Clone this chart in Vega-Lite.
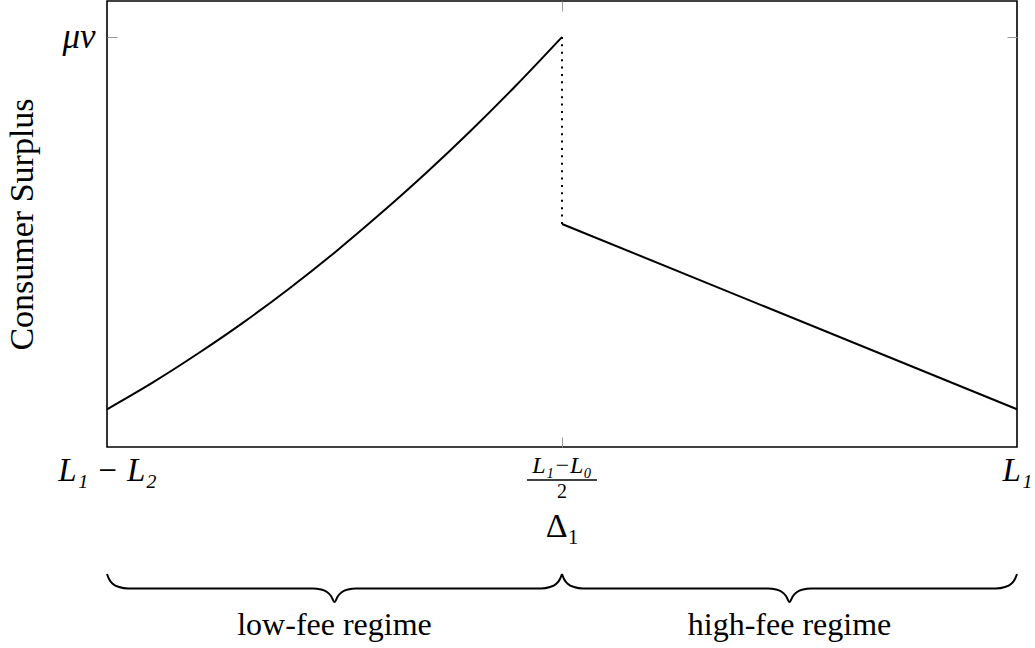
{
  "$schema": "https://vega.github.io/schema/vega-lite/v6.json",
  "width": 910,
  "height": 446,
  "autosize": {"type": "none"},
  "padding": {"left": 107, "top": 1, "right": 18, "bottom": 201},
  "background": "white",
  "config": {
    "view": {"stroke": "#000", "strokeWidth": 1.6},
    "axis": {"domain": false, "grid": false}
  },
  "datasets": {
    "curve": [
      {"part": "low", "d": 0.0, "cs": 0.092},
      {"part": "low", "d": 0.1, "cs": 0.157},
      {"part": "low", "d": 0.2, "cs": 0.228},
      {"part": "low", "d": 0.3, "cs": 0.304},
      {"part": "low", "d": 0.4, "cs": 0.386},
      {"part": "low", "d": 0.5, "cs": 0.474},
      {"part": "low", "d": 0.6, "cs": 0.568},
      {"part": "low", "d": 0.7, "cs": 0.667},
      {"part": "low", "d": 0.8, "cs": 0.772},
      {"part": "low", "d": 0.9, "cs": 0.883},
      {"part": "low", "d": 1.0, "cs": 1.0},
      {"part": "high", "d": 1.0, "cs": 0.544},
      {"part": "high", "d": 2.0, "cs": 0.092}
    ],
    "jump": [{"d": 1.0, "lo": 0.544, "hi": 1.0}],
    "braces": [
      {"brace": "low", "d": 0.0, "y": -0.3098},
      {"brace": "low", "d": 0.0044, "y": -0.322},
      {"brace": "low", "d": 0.0132, "y": -0.3341},
      {"brace": "low", "d": 0.0264, "y": -0.3415},
      {"brace": "low", "d": 0.0462, "y": -0.3451},
      {"brace": "low", "d": 0.4527, "y": -0.3451},
      {"brace": "low", "d": 0.4703, "y": -0.3476},
      {"brace": "low", "d": 0.4835, "y": -0.3537},
      {"brace": "low", "d": 0.4923, "y": -0.3634},
      {"brace": "low", "d": 0.5, "y": -0.378},
      {"brace": "low", "d": 0.5077, "y": -0.3634},
      {"brace": "low", "d": 0.5165, "y": -0.3537},
      {"brace": "low", "d": 0.5297, "y": -0.3476},
      {"brace": "low", "d": 0.5473, "y": -0.3451},
      {"brace": "low", "d": 0.9538, "y": -0.3451},
      {"brace": "low", "d": 0.9736, "y": -0.3415},
      {"brace": "low", "d": 0.9868, "y": -0.3341},
      {"brace": "low", "d": 0.9956, "y": -0.322},
      {"brace": "low", "d": 1.0, "y": -0.3098},
      {"brace": "high", "d": 1.0, "y": -0.3098},
      {"brace": "high", "d": 1.0044, "y": -0.322},
      {"brace": "high", "d": 1.0132, "y": -0.3341},
      {"brace": "high", "d": 1.0264, "y": -0.3415},
      {"brace": "high", "d": 1.0462, "y": -0.3451},
      {"brace": "high", "d": 1.4527, "y": -0.3451},
      {"brace": "high", "d": 1.4703, "y": -0.3476},
      {"brace": "high", "d": 1.4835, "y": -0.3537},
      {"brace": "high", "d": 1.4923, "y": -0.3634},
      {"brace": "high", "d": 1.5, "y": -0.378},
      {"brace": "high", "d": 1.5077, "y": -0.3634},
      {"brace": "high", "d": 1.5165, "y": -0.3537},
      {"brace": "high", "d": 1.5297, "y": -0.3476},
      {"brace": "high", "d": 1.5473, "y": -0.3451},
      {"brace": "high", "d": 1.9538, "y": -0.3451},
      {"brace": "high", "d": 1.9736, "y": -0.3415},
      {"brace": "high", "d": 1.9868, "y": -0.3341},
      {"brace": "high", "d": 1.9956, "y": -0.322},
      {"brace": "high", "d": 2.0, "y": -0.3098}
    ],
    "regimes": [
      {"d": 0.5, "y": -0.4585, "t": "low-fee regime"},
      {"d": 1.5, "y": -0.4585, "t": "high-fee regime"}
    ],
    "numerator": [{"d": 1.0, "y": -0.0634, "t": "L₁−L₀"}],
    "denominator": [{"d": 1.0, "y": -0.124, "t": "2"}],
    "fracbar": [{"d1": 0.923, "d2": 1.077, "y": -0.0805}]
  },
  "layer": [
    {
      "data": {"name": "curve"},
      "mark": {"type": "line", "color": "#000", "strokeWidth": 2, "interpolate": "monotone"},
      "encoding": {
        "x": {
          "field": "d", "type": "quantitative",
          "scale": {"domain": [0, 2], "nice": false, "zero": false},
          "axis": {
            "orient": "bottom",
            "values": [0, 1, 2],
            "labelExpr": "datum.value == 0 ? 'L₁ − L₂' : datum.value == 2 ? 'L₁' : ''",
            "tickSize": -10, "tickColor": "#999", "tickWidth": 1,
            "tickOpacity": {"condition": {"test": "datum.value == 1", "value": 1}, "value": 0},
            "labelFont": "Liberation Serif", "labelFontStyle": "italic", "labelFontSize": 33,
            "labelColor": "#000", "labelPadding": 17, "labelFlush": false, "labelOverlap": false,
            "labelBaseline": "top",
            "title": "Δ₁", "titleFont": "Liberation Serif", "titleFontSize": 34,
            "titleFontWeight": "normal", "titleColor": "#000", "titlePadding": 22
          }
        },
        "y": {
          "field": "cs", "type": "quantitative",
          "scale": {"domain": [0, 1.0878], "nice": false, "zero": false},
          "axis": {
            "orient": "left",
            "values": [1],
            "labelExpr": "'μv'",
            "tickSize": -10, "tickColor": "#999", "tickWidth": 1,
            "labelFont": "Liberation Serif", "labelFontStyle": "italic", "labelFontSize": 35,
            "labelColor": "#000", "labelPadding": 22,
            "title": "Consumer Surplus", "titleFont": "Liberation Serif", "titleFontSize": 34,
            "titleFontWeight": "normal", "titleColor": "#000", "titlePadding": 22
          }
        },
        "detail": {"field": "part", "type": "nominal"}
      }
    },
    {
      "data": {"name": "jump"},
      "mark": {"type": "rule", "color": "#000", "strokeWidth": 2, "strokeDash": [2, 5.4]},
      "encoding": {
        "x": {
          "field": "d", "type": "quantitative",
          "axis": {"orient": "top", "values": [1], "labels": false, "tickSize": -10, "tickColor": "#999", "tickWidth": 1, "title": null}
        },
        "y": {
          "field": "lo", "type": "quantitative",
          "axis": {"orient": "right", "values": [1], "labels": false, "tickSize": -10, "tickColor": "#999", "tickWidth": 1, "title": null}
        },
        "y2": {"field": "hi"}
      }
    },
    {
      "data": {"name": "braces"},
      "mark": {"type": "line", "color": "#000", "strokeWidth": 2, "interpolate": "monotone"},
      "encoding": {
        "x": {"field": "d", "type": "quantitative", "axis": null},
        "y": {"field": "y", "type": "quantitative", "axis": null},
        "detail": {"field": "brace", "type": "nominal"}
      }
    },
    {
      "data": {"name": "regimes"},
      "mark": {"type": "text", "font": "Liberation Serif", "fontSize": 32, "color": "#000", "align": "center", "baseline": "alphabetic"},
      "encoding": {
        "x": {"field": "d", "type": "quantitative", "axis": null},
        "y": {"field": "y", "type": "quantitative", "axis": null},
        "text": {"field": "t"}
      }
    },
    {
      "data": {"name": "numerator"},
      "mark": {"type": "text", "font": "Liberation Serif", "fontStyle": "italic", "fontSize": 24, "color": "#000", "align": "center", "baseline": "alphabetic"},
      "encoding": {
        "x": {"field": "d", "type": "quantitative", "axis": null},
        "y": {"field": "y", "type": "quantitative", "axis": null},
        "text": {"field": "t"}
      }
    },
    {
      "data": {"name": "denominator"},
      "mark": {"type": "text", "font": "Liberation Serif", "fontSize": 20, "color": "#000", "align": "center", "baseline": "alphabetic"},
      "encoding": {
        "x": {"field": "d", "type": "quantitative", "axis": null},
        "y": {"field": "y", "type": "quantitative", "axis": null},
        "text": {"field": "t"}
      }
    },
    {
      "data": {"name": "fracbar"},
      "mark": {"type": "rule", "color": "#000", "strokeWidth": 1.5},
      "encoding": {
        "x": {"field": "d1", "type": "quantitative", "axis": null},
        "x2": {"field": "d2"},
        "y": {"field": "y", "type": "quantitative", "axis": null}
      }
    }
  ],
  "resolve": {"axis": {"x": "independent", "y": "independent"}}
}
